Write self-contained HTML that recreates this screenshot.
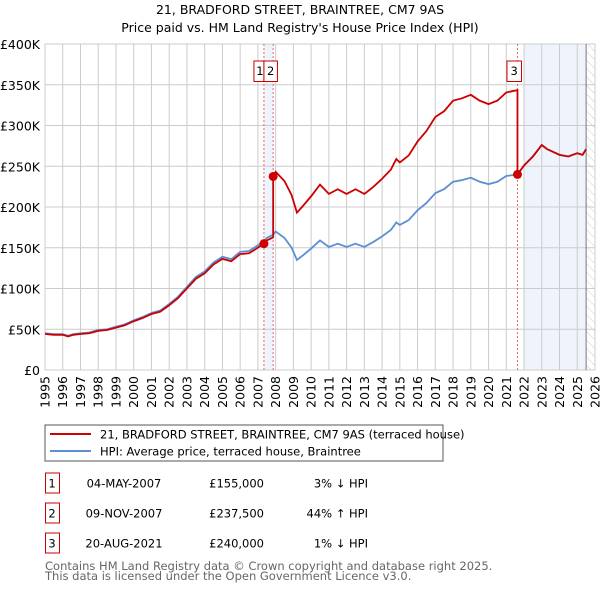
<!DOCTYPE html>
<html><head><meta charset="utf-8"><style>
body{margin:0;width:600px;height:590px;background:#fff;font-family:"DejaVu Sans","Liberation Sans",sans-serif;overflow:hidden}
svg text{font-family:"DejaVu Sans","Liberation Sans",sans-serif}
</style></head><body>
<svg id="c" width="600" height="590">
<defs><pattern id="hatch" width="6" height="6" patternUnits="userSpaceOnUse" patternTransform="rotate(-45)"><line x1="0" y1="0" x2="0" y2="6" stroke="#ccc" stroke-width="1"/></pattern></defs>
<text x="300" y="14" text-anchor="middle" font-size="12.5">21, BRADFORD STREET, BRAINTREE, CM7 9AS</text>
<text x="300" y="32" text-anchor="middle" font-size="12.5">Price paid vs. HM Land Registry's House Price Index (HPI)</text>
<g id="grid"></g><g id="plot"></g>
<rect x="45" y="425" width="398" height="36" fill="#fff" stroke="#555"/>
<line x1="50" y1="434" x2="91" y2="434" stroke="#cc0000" stroke-width="2"/>
<text x="100" y="438.5" font-size="11.5">21, BRADFORD STREET, BRAINTREE, CM7 9AS (terraced house)</text>
<line x1="50" y1="451" x2="91" y2="451" stroke="#5b8fd4" stroke-width="2"/>
<text x="100" y="455.5" font-size="11.5">HPI: Average price, terraced house, Braintree</text>
<g id="table" font-size="11.5"></g>
<text x="45" y="570" font-size="11.5" fill="#666">Contains HM Land Registry data © Crown copyright and database right 2025.</text>
<text x="45" y="580" font-size="11.5" fill="#666">This data is licensed under the Open Government Licence v3.0.</text>
</svg>
<script>
const years=[1995,1995.5,1996,1996.3,1996.6,1997,1997.5,1998,1998.5,1999,1999.5,2000,2000.5,2001,2001.5,2002,2002.5,2003,2003.5,2004,2004.5,2005,2005.5,2006,2006.5,2007,2007.34,2007.5,2007.86,2008,2008.5,2008.9,2009.2,2009.5,2010,2010.5,2011,2011.5,2012,2012.5,2013,2013.5,2014,2014.5,2014.8,2015,2015.5,2016,2016.5,2017,2017.5,2018,2018.5,2019,2019.5,2020,2020.5,2021,2021.3,2021.63,2022,2022.5,2023,2023.3,2023.6,2024,2024.5,2025,2025.3,2025.5];
const hpi=[45,44,44,42,44,45,46,49,50,53,56,61,65,70,73,81,90,102,114,121,132,139,136,145,146,153,158,162,166,170,162,150,135,140,149,159,151,155,151,155,151,157,164,172,181,178,184,196,205,217,222,231,233,236,231,228,231,238,239,240,251,262,276,271,268,264,262,266,264,271];
const saleYears=[2007.34,2007.86,2021.63];
const salePrices=[155,237.5,240];
const saleLabels=["1","2","3"];
const saleDates=["04-MAY-2007","09-NOV-2007","20-AUG-2021"];
const salePriceText=["£155,000","£237,500","£240,000"];
const saleHpiText=["3% ↓ HPI","44% ↑ HPI","1% ↓ HPI"];
const yTicks=[0,50,100,150,200,250,300,350,400];
const yTickLabels=["£0","£50K","£100K","£150K","£200K","£250K","£300K","£350K","£400K"];
const xTicks=[1995,1996,1997,1998,1999,2000,2001,2002,2003,2004,2005,2006,2007,2008,2009,2010,2011,2012,2013,2014,2015,2016,2017,2018,2019,2020,2021,2022,2023,2024,2025,2026];

const X=y=>45+(y-1995)*(550/31), Y=v=>370-v*(326/400);
const NS="http://www.w3.org/2000/svg";
function mk(p,t,a){const e=document.createElementNS(NS,t);for(const k in a)e.setAttribute(k,a[k]);p.appendChild(e);return e;}
const g=document.getElementById('grid'),pl=document.getElementById('plot'),tb=document.getElementById('table');
function hpiAt(t){for(let i=1;i<years.length;i++)if(years[i]>=t){const f=(t-years[i-1])/(years[i]-years[i-1]);return hpi[i-1]+f*(hpi[i]-hpi[i-1]);}return hpi[hpi.length-1];}
let r=mk(g,'rect',{x:X(saleYears[0]),y:Y(400),width:X(saleYears[1])-X(saleYears[0]),height:Y(0)-Y(400),fill:'#eef3fc'});

r=mk(g,'rect',{x:X(2022),y:Y(400),width:X(2025.5)-X(2022),height:Y(0)-Y(400),fill:'#eef3fc'});

r=mk(g,'rect',{x:X(2025.5),y:Y(400),width:X(2026)-X(2025.5),height:Y(0)-Y(400),fill:'url(#hatch)'});

yTicks.forEach((v,i)=>{let l=mk(g,'line',{x1:45,x2:595,y1:Y(v),y2:Y(v),stroke:'#ccc'});

let t=mk(g,'text',{x:40,y:Y(v)+5,'text-anchor':'end','font-size':'12.5'});t.textContent=yTickLabels[i];
});
xTicks.forEach(v=>{let l=mk(g,'line',{x1:X(v),x2:X(v),y1:Y(400),y2:Y(0),stroke:'#ccc'});

let t=mk(g,'text',{x:0,y:0,'text-anchor':'end','font-size':'12.5',transform:`translate(${X(v)+4.5},376) rotate(-90)`});t.textContent=v;
});
let ln=mk(g,'line',{x1:X(2025.5),x2:X(2025.5),y1:Y(400),y2:Y(0),stroke:'#777'});

saleYears.forEach((s,i)=>{let l=mk(g,'line',{x1:X(s),x2:X(s),y1:Y(400),y2:Y(0),stroke:'#e66','stroke-dasharray':'2,2'});
});
let hp=mk(pl,'polyline',{points:years.map((y,i)=>X(y)+','+Y(hpi[i])).join(' '),fill:'none',stroke:'#5b8fd4','stroke-width':1.8});

const ratios=salePrices.map((p,i)=>p/hpiAt(saleYears[i]));
const pts=[];
years.forEach((y,i)=>{let k=0;for(let j=0;j<saleYears.length;j++)if(y>=saleYears[j])k=j;
saleYears.forEach((s,j)=>{if(i>0&&s>years[i-1]&&s<=y){pts.push([s,hpiAt(s)*ratios[Math.max(0,j-1)]]);pts.push([s,salePrices[j]]);}});
pts.push([y,hpi[i]*ratios[k]]);});
let pr=mk(pl,'polyline',{points:pts.map(p=>X(p[0])+','+Y(p[1])).join(' '),fill:'none',stroke:'#cc0000','stroke-width':1.8});

const boxX=[X(saleYears[0])-10,X(saleYears[0]),X(saleYears[2])-10.5];
const boxW=[10,13.5,14.5];
saleYears.forEach((s,i)=>{let c=mk(pl,'circle',{cx:X(s),cy:Y(salePrices[i]),r:4.5,fill:'#cc0000'});

let b=mk(pl,'rect',{x:boxX[i],y:61,width:boxW[i],height:20.5,fill:'#fff',stroke:'#cc0000'});

let t=mk(pl,'text',{x:boxX[i]+boxW[i]/2+(i==0?1:0),y:75,'text-anchor':'middle','font-size':'11.5'});t.textContent=saleLabels[i];

const cy=483+i*30;
let tr=mk(tb,'rect',{x:45.5,y:cy-10,width:14,height:20,fill:'none',stroke:'#cc0000'});

[[52,saleLabels[i],'middle'],[124,saleDates[i],'middle'],[264,salePriceText[i],'end'],[368,saleHpiText[i],'end']].forEach(c=>{
let tt=mk(tb,'text',{x:c[0],y:cy+4.5,'text-anchor':c[2]});tt.textContent=c[1];
});});
</script>
</body></html>
